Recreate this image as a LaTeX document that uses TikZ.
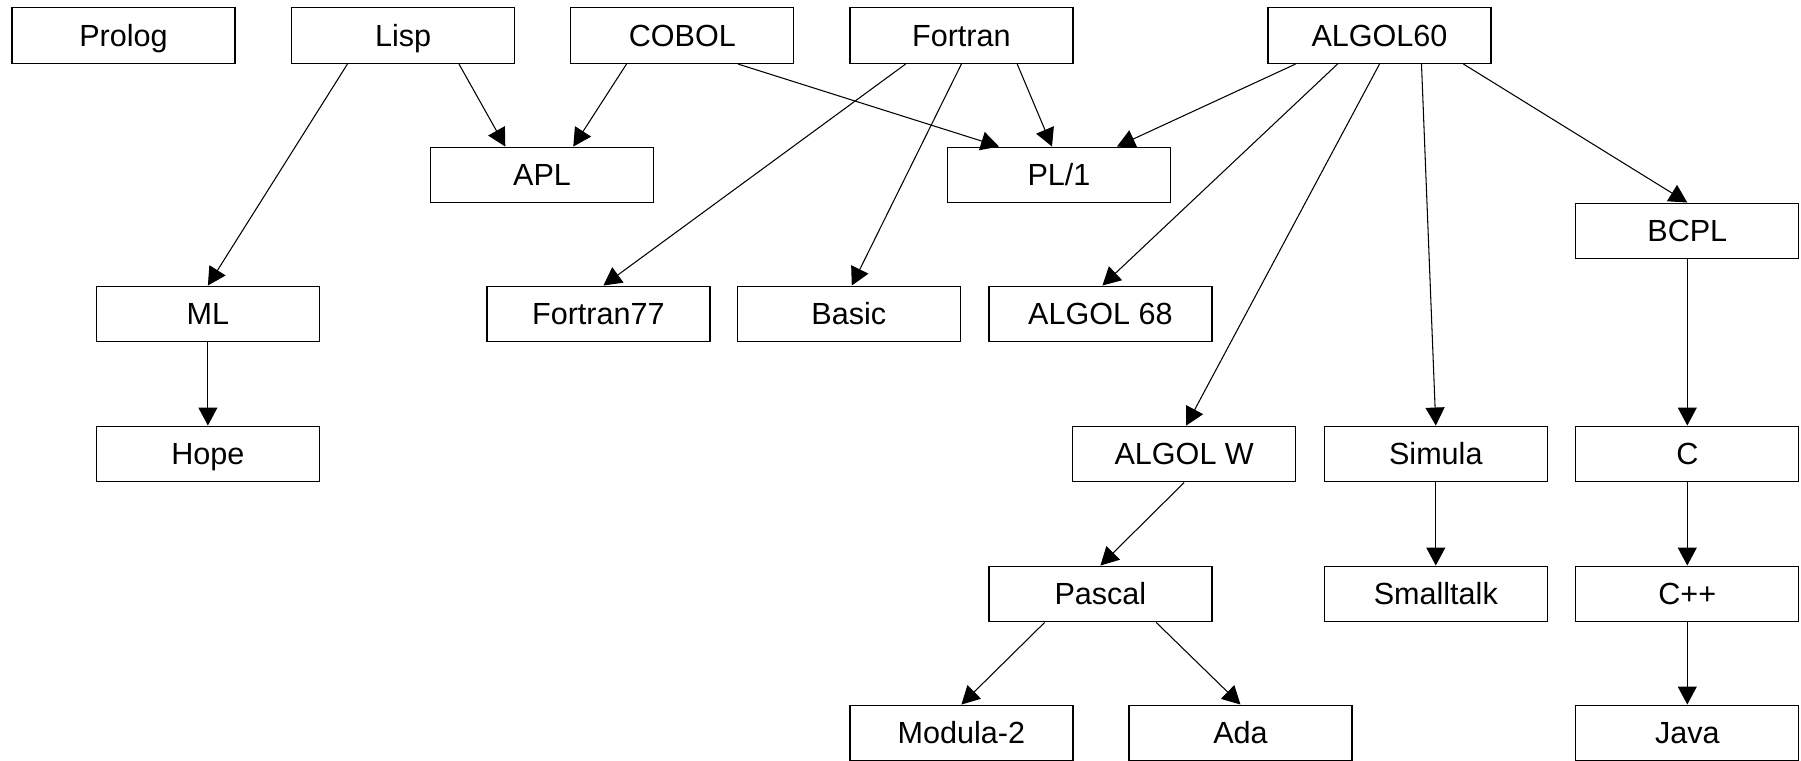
\documentclass[tikz,border=0pt]{standalone}
\usepackage{fontspec}
\setmainfont{Liberation Sans}
\usetikzlibrary{arrows.meta}

\tikzset{
  lang/.style={draw, line width=0.35pt, minimum width=22.3mm, minimum height=5.57mm,
    inner sep=0pt, text height=6.2pt, text depth=0pt, font=\fontsize{8.7}{10}\selectfont},
  flow/.style={line width=0.3pt, -{Triangle[length=1.8mm,width=1.9mm]}}
}

\begin{document}
\begin{tikzpicture}[x=0.1mm,y=-0.1mm]
  \useasboundingbox (0,0) rectangle (1801,761);
  \node[lang] (prolog) at (123.5,35.6) {Prolog};
  \node[lang] (lisp) at (403.2,35.6) {Lisp};
  \node[lang] (cobol) at (682.3,35.6) {COBOL};
  \node[lang] (fortran) at (961.4,35.6) {Fortran};
  \node[lang] (algol60) at (1379.5,35.6) {ALGOL60};
  \node[lang] (apl) at (542.1,175) {APL};
  \node[lang] (pl1) at (1059,175) {PL/1};
  \node[lang] (bcpl) at (1687.3,231) {BCPL};
  \node[lang] (ml) at (207.9,314) {ML};
  \node[lang] (fortran77) at (598.4,314) {Fortran77};
  \node[lang] (basic) at (848.8,314) {Basic};
  \node[lang] (algol68) at (1100.4,314) {ALGOL 68};
  \node[lang] (hope) at (207.9,454) {Hope};
  \node[lang] (algolw) at (1184.2,454) {ALGOL W};
  \node[lang] (simula) at (1435.8,454) {Simula};
  \node[lang] (c) at (1687.3,454) {C};
  \node[lang] (pascal) at (1100.4,594) {Pascal};
  \node[lang] (smalltalk) at (1435.8,594) {Smalltalk};
  \node[lang] (cpp) at (1687.3,594) {C++};
  \node[lang] (modula) at (961.4,733) {Modula-2};
  \node[lang] (ada) at (1240.5,733) {Ada};
  \node[lang] (java) at (1687.3,733) {Java};

  \draw[flow] ([xshift=5.58mm]lisp.south) -- ([xshift=-3.68mm]apl.north);
  \draw[flow] ([xshift=-5.58mm]lisp.south) -- (ml.north);
  \draw[flow] ([xshift=-5.58mm]cobol.south) -- ([xshift=3.12mm]apl.north);
  \draw[flow] ([xshift=5.58mm]cobol.south) -- ([xshift=-6mm]pl1.north);
  \draw[flow] ([xshift=-5.58mm]fortran.south) -- ([xshift=0.5mm]fortran77.north);
  \draw[flow] (fortran.south) -- ([xshift=0.3mm]basic.north);
  \draw[flow] ([xshift=5.58mm]fortran.south) -- ([xshift=-0.7mm]pl1.north);
  \draw[flow] ([xshift=-8.4mm]algol60.south) -- ([xshift=5.8mm]pl1.north);
  \draw[flow] ([xshift=-4.2mm]algol60.south) -- ([xshift=0.2mm]algol68.north);
  \draw[flow] (algol60.south) -- ([xshift=0.2mm]algolw.north);
  \draw[flow] ([xshift=4.2mm]algol60.south) -- (simula.north);
  \draw[flow] ([xshift=8.4mm]algol60.south) -- (bcpl.north);
  \draw[flow] (ml) -- (hope);
  \draw[flow] (bcpl) -- (c);
  \draw[flow] (c) -- (cpp);
  \draw[flow] (cpp) -- (java);
  \draw[flow] (simula) -- (smalltalk);
  \draw[flow] (algolw.south) -- (pascal.north);
  \draw[flow] ([xshift=-5.58mm]pascal.south) -- (modula.north);
  \draw[flow] ([xshift=5.58mm]pascal.south) -- (ada.north);
\end{tikzpicture}
\end{document}
